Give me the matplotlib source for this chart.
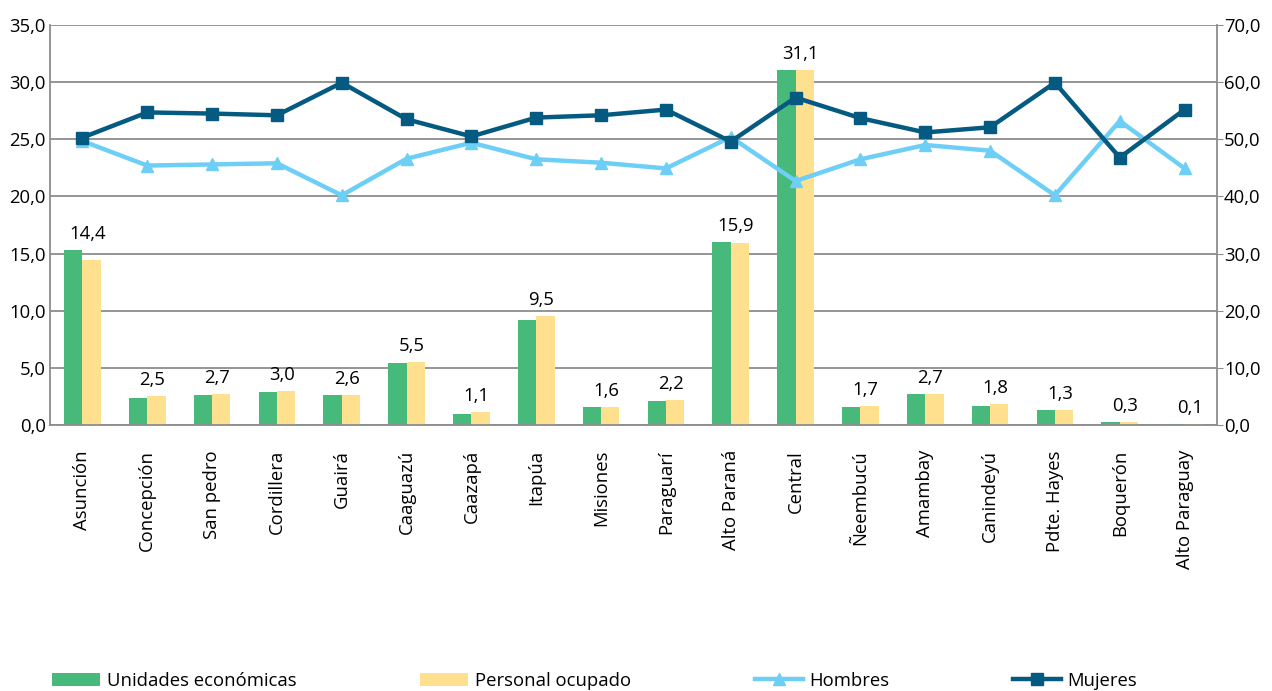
import numpy as np
import matplotlib.pyplot as plt

plt.rcParams['font.family'] = ['Open Sans', 'DejaVu Sans']

departamentos = ['Asunción', 'Concepción', 'San pedro', 'Cordillera', 'Guairá',
                 'Caaguazú', 'Caazapá', 'Itapúa', 'Misiones', 'Paraguarí',
                 'Alto Paraná', 'Central', 'Ñeembucú', 'Amambay', 'Canindeyú',
                 'Pdte. Hayes', 'Boquerón', 'Alto Paraguay']

unidades = [15.3, 2.4, 2.6, 2.9, 2.6, 5.4, 1.0, 9.2, 1.6, 2.1,
            16.0, 31.1, 1.6, 2.7, 1.7, 1.3, 0.3, 0.1]
personal = [14.4, 2.5, 2.7, 3.0, 2.6, 5.5, 1.1, 9.5, 1.6, 2.2,
            15.9, 31.1, 1.7, 2.7, 1.8, 1.3, 0.3, 0.1]

hombres = [49.7, 45.4, 45.6, 45.8, 40.2, 46.6, 49.4, 46.5, 45.9, 44.9,
           50.4, 42.7, 46.5, 49.0, 48.0, 40.2, 53.2, 44.9]
mujeres = [50.3, 54.7, 54.5, 54.2, 59.9, 53.5, 50.5, 53.8, 54.2, 55.2,
           49.6, 57.3, 53.7, 51.2, 52.1, 59.9, 46.8, 55.2]

verde = '#47b97b'
amarillo = '#ffe08f'
celeste = '#6dcff6'
azul = '#045a80'
gris = '#8c8c8c'
fs = 13.3

fig = plt.figure(figsize=(12.72, 6.91), dpi=100)
ax = fig.add_axes([50 / 1272, 1 - 425 / 691, 1167 / 1272, 400 / 691])

x = np.arange(len(departamentos))
w = 0.283
ax.bar(x - w / 2, unidades, w, color=verde, label='Unidades económicas', zorder=2)
ax.bar(x + w / 2, personal, w, color=amarillo, label='Personal ocupado', zorder=2)

# etiqueta con el valor de personal ocupado sobre cada par de barras
for xi, u, p in zip(x, unidades, personal):
    ax.annotate(f'{p:.1f}'.replace('.', ','), (xi + 0.08, max(u, p)),
                xytext=(0, 5), textcoords='offset points',
                ha='center', va='bottom', fontsize=fs, zorder=5)

ax.set_xlim(-0.5, len(departamentos) - 0.5)
ax.set_ylim(0, 35)
ax.set_yticks(np.arange(0, 35.1, 5))
ax.set_yticklabels([f'{v:.1f}'.replace('.', ',') for v in np.arange(0, 35.1, 5)])
ax.set_xticks(x)
ax.set_xticklabels(departamentos, rotation=90, fontsize=fs)
ax.tick_params(axis='x', length=0, pad=18)
ax.tick_params(axis='y', length=0, pad=3, labelsize=fs)
ax.grid(axis='y', color=gris, linewidth=1.3, zorder=0)
ax.set_axisbelow(True)
for s in ['top', 'right']:
    ax.spines[s].set_visible(False)
for s in ['left', 'bottom']:
    ax.spines[s].set_color(gris)
    ax.spines[s].set_linewidth(1.3)

ax2 = ax.twinx()
ax2.plot(x, hombres, color=celeste, lw=3.2, marker='^', ms=9, label='Hombres', zorder=3)
ax2.plot(x, mujeres, color=azul, lw=3.2, marker='s', ms=9, label='Mujeres', zorder=4)
ax2.set_ylim(0, 70)
ax2.set_yticks(np.arange(0, 70.1, 10))
ax2.set_yticklabels([f'{v:.1f}'.replace('.', ',') for v in np.arange(0, 70.1, 10)])
ax2.tick_params(axis='y', length=4, color=gris, pad=1, labelsize=fs)
for s in ['top', 'left', 'bottom']:
    ax2.spines[s].set_visible(False)
ax2.spines['right'].set_color(gris)
ax2.spines['right'].set_linewidth(1.3)

h1, l1 = ax.get_legend_handles_labels()
h2, l2 = ax2.get_legend_handles_labels()
fig.legend(h1 + h2, l1 + l2, ncol=4, loc='lower left',
           bbox_to_anchor=(0.028, -0.022), frameon=False, fontsize=fs,
           handlelength=2.6, handletextpad=0.35, columnspacing=6.7)

fig.savefig('out.png', dpi=100)
